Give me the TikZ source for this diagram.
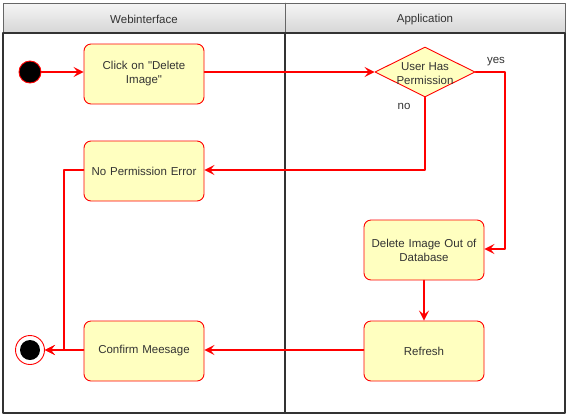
\documentclass[tikz,border=0pt]{standalone}
\usepackage{fontspec}
\setmainfont{Liberation Sans}
\usetikzlibrary{arrows.meta,shapes.geometric}
\definecolor{boxfill}{HTML}{FFFFC0}
\definecolor{txt}{HTML}{333333}
\begin{document}
\begin{tikzpicture}[x=1pt,y=-1pt,font=\fontsize{11.5}{14}\selectfont,line join=round,line cap=round,>={Stealth[length=10pt,width=10pt,inset=4pt]}]
    \useasboundingbox (0,0) rectangle (567,416);
    \tikzset{
      act/.style={draw=red,line width=0.9pt,fill=boxfill,rounded corners=7pt,minimum width=120pt,minimum height=60pt,align=center,text=txt,text width=112pt},
      flow/.style={draw=red,line width=1.6pt,->},
      lbl/.style={text=txt}
    }
    % swimlanes
    \shade[top color=gray!8,bottom color=gray!32] (3,3) rectangle (565,33);
    \draw[gray!80!black] (3,3) rectangle (565,33) (285,3) -- (285,33);
    \node[lbl] at (144,19.5) {Webinterface};
    \node[lbl] at (425,19.5) {Application};
    \draw[line width=1.8pt,black!80] (3,33) rectangle (565,413);
    \draw[line width=1.8pt,black!80] (285,33) -- (285,413);
    % nodes
    \node[circle,fill=black,draw=red,line width=0.9pt,minimum size=22pt,inner sep=0pt] (start) at (30,72) {};
    \node[act] (click) at (144,74) {Click on \textquotedbl Delete\\Image\textquotedbl};
    \node[diamond,draw=red,line width=0.9pt,fill=boxfill,minimum width=100pt,minimum height=50pt,inner sep=0pt,aspect=2,align=center,text=txt] (perm) at (425,72) {};
    \node[align=center,text=txt] at (425,74) {User Has\\Permission};
    \node[act] (noperm) at (144,171) {No Permission Error};
    \node[act] (del) at (424,250) {Delete Image Out of\\Database};
    \node[act] (refresh) at (424,351) {Refresh};
    \node[act] (confirm) at (144,351) {Confirm Meesage};
    \node[circle,draw=red,line width=0.9pt,fill=white,minimum size=29pt,inner sep=0pt] (stop) at (30,350) {};
    \node[circle,fill=black,minimum size=20pt,inner sep=0pt] at (stop) {};
    \coordinate (yes) at (505,72);
    \coordinate (no) at (425,170);
    \coordinate (back) at (64,170);
    % edges
    \draw[flow] (start) -- (click.west |- start);
    \draw[flow] (click.east |- start) -- (perm.west);
    \draw[flow] (perm.east) -- (yes) |- (del.east |- 0,249);
    \draw[flow] (perm.south) -- (no) -- (noperm.east |- no);
    \draw[flow] (noperm.west |- back) -- (back) |- (stop.east);
    \draw[flow] (del) -- (refresh);
    \draw[flow] (refresh.west |- stop) -- (confirm.east |- stop);
    \draw[flow] (confirm.west |- stop) -- (stop);
    \node[lbl] at (496,62) {yes};
    \node[lbl] at (404,106) {no};
\end{tikzpicture}
\end{document}
